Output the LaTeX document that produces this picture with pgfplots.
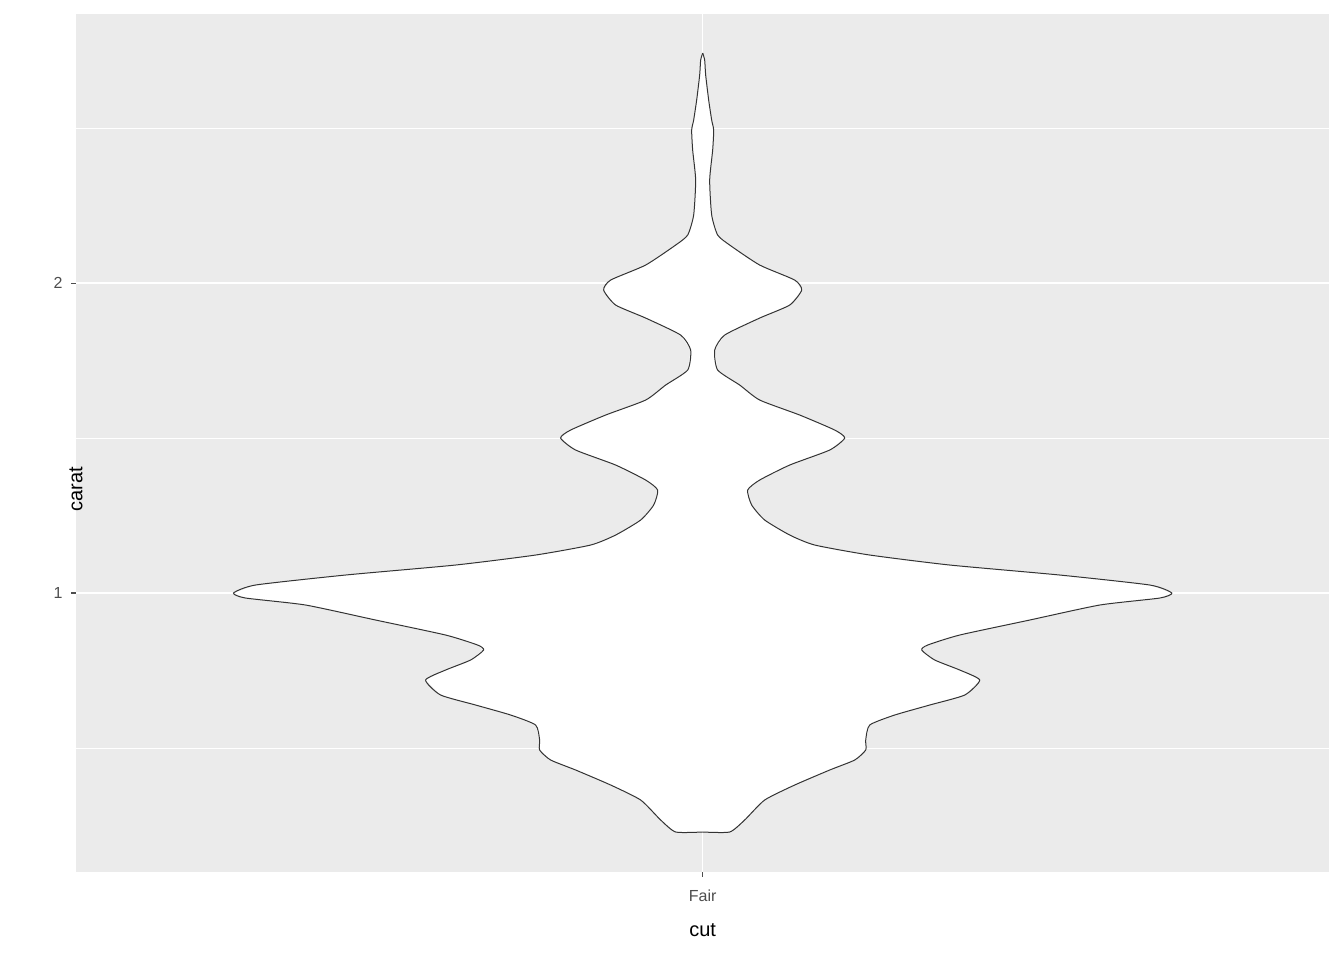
\documentclass[border=0pt]{standalone}
\usepackage{pgfplots}
\pgfplotsset{compat=1.18}
\usepackage{pgfplotstable}
\usepackage{fontspec}
\setmainfont{Liberation Sans}
\definecolor{panel}{HTML}{EBEBEB}
\definecolor{tickc}{HTML}{4D4D4D}
\pgfplotstableread{
py w
832 0
832 27
820 42
800 62
785 92
770 127
760 152
750 163
740 163
725 167
715 192
705 227
695 262
680 277
670 257
660 232
650 219
645 225
635 257
620 327
605 397
598 457
593 469
585 447
575 357
565 247
555 167
545 112
535 87
520 62
505 49
490 45
480 57
465 87
450 127
438 142
430 132
415 97
400 57
385 37
370 15
350 12
335 22
318 57
305 87
290 99
280 92
265 57
245 27
235 15
215 9
180 7
150 10
130 11
120 9
100 6
75 3
60 2
53 0
}\vio
\begin{document}
\begin{tikzpicture}
\begin{axis}[
  scale only axis, width=940pt, height=643.5pt,
  xmin=-626.5, xmax=626.5, ymin=0.1, ymax=2.868,
  axis background/.style={fill=panel},
  axis line style={draw=none},
  xtick={0}, xticklabels={Fair},
  ytick={1,2}, minor ytick={0.5,1.5,2.5},
  grid=both,
  major grid style={white, line width=0.9pt},
  minor grid style={white, line width=0.45pt},
  tick align=outside, major tick length=3.5pt, minor tick length=0pt,
  tick style={tickc, line width=0.8pt},
  xtick pos=bottom, ytick pos=left,
  ticklabel style={font=\fontsize{12}{14}\selectfont, text=tickc},
  /pgf/number format/assume math mode=true,
  xlabel={cut}, ylabel={carat},
  label style={font=\fontsize{15}{17}\selectfont},
  xlabel style={at={(axis description cs:0.5,0)}, anchor=center, yshift=-43.5pt},
  ylabel style={at={(axis description cs:0,0.5)}, anchor=center, xshift=-34.5pt, rotate=0},
  xticklabel style={anchor=center, yshift=-14pt},
  yticklabel style={anchor=center, xshift=-10pt},
]
\addplot[fill=white, draw=none] table[x expr=\thisrow{w}, y expr=(903-\thisrow{py})/310] {\vio} \closedcycle;
\addplot[fill=white, draw=none] table[x expr=-\thisrow{w}, y expr=(903-\thisrow{py})/310] {\vio} \closedcycle;
\addplot[draw=black!80, line width=0.75pt, smooth, tension=0.35] table[x expr=\thisrow{w}, y expr=(903-\thisrow{py})/310] {\vio};
\addplot[draw=black!80, line width=0.75pt, smooth, tension=0.35] table[x expr=-\thisrow{w}, y expr=(903-\thisrow{py})/310] {\vio};
\end{axis}
\path ([xshift=-57pt,yshift=-66pt]current axis.south west) rectangle ([xshift=11pt,yshift=10.5pt]current axis.north east);
\end{tikzpicture}
\end{document}
